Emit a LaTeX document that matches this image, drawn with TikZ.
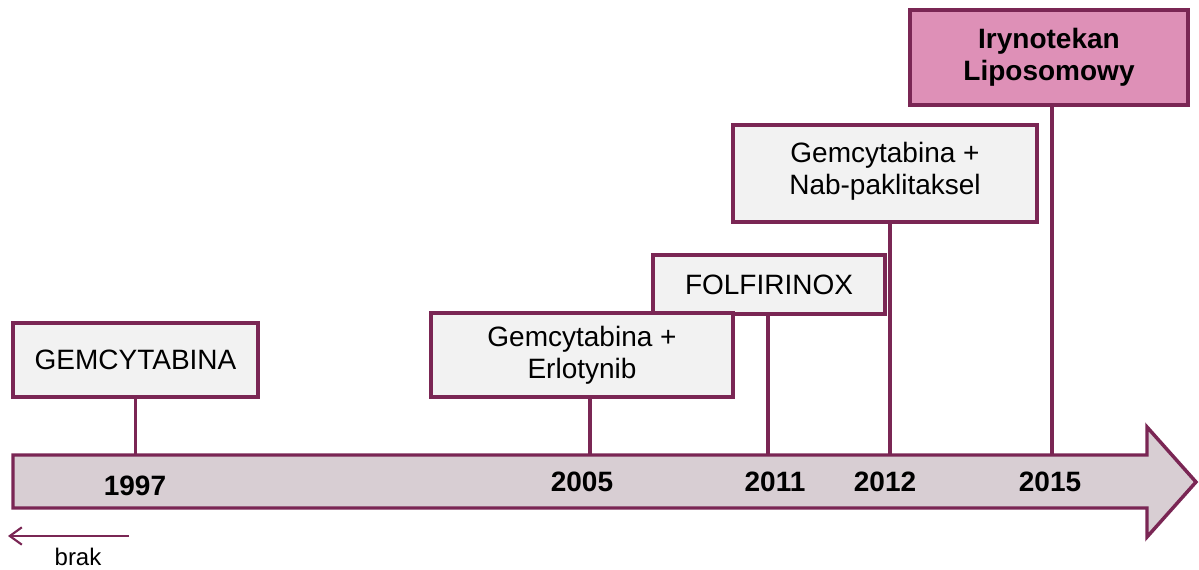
\documentclass[tikz,border=0pt]{standalone}
\usepackage{fontspec}
\setmainfont{Liberation Sans}
\usepackage{tikz,xcolor}
\usetikzlibrary{positioning, arrows.meta}

\definecolor{plum}{RGB}{122,38,84}
\definecolor{boxgray}{RGB}{242,242,242}
\definecolor{axisgray}{RGB}{216,206,211}
\definecolor{lipopink}{RGB}{222,144,183}

\begin{document}
\begin{tikzpicture}[x=0.75pt, y=-0.75pt, font=\fontsize{21}{24}\selectfont,
    drug/.style={draw=plum, line width=2.6pt, fill=boxgray, align=center, inner sep=0pt},
    riser/.style={draw=plum, line width=2.6pt},
    year/.style={font=\fontsize{21}{24}\selectfont\bfseries}]
    \useasboundingbox (0,0) rectangle (1199,570);

    % os czasu
    \draw[plum, line width=2.6pt, fill=axisgray, line join=miter]
        (13,455) -- (1147,455) -- (1147,427) -- (1196,482) -- (1147,537) -- (1147,508) -- (13,508) -- cycle;
    \coordinate (tltop) at (0,455);

    \node[drug, minimum width=183.75pt, minimum height=55.5pt]  (gem)  at (135.5,360)  {GEMCYTABINA};
    \node[drug, minimum width=174pt, minimum height=44.25pt]    (folf) at (769,284.5)  {FOLFIRINOX};
    \node[drug, minimum width=226.5pt, minimum height=63pt]     (erl)  at (582,355)    {Gemcytabina +\\Erlotynib};
    \node[drug, minimum width=228pt, minimum height=72.75pt]    (nab)  at (885,173.5)  {Gemcytabina +\\Nab-paklitaksel\rule[-8pt]{0pt}{8pt}};
    \node[drug, fill=lipopink, font=\fontsize{21}{24}\selectfont\bfseries,
          minimum width=208.5pt, minimum height=71.25pt]        (iry)  at (1049,57.5)  {Irynotekan\\Liposomowy};

    \draw[riser] (gem.south) -- (gem.south |- tltop);
    \draw[riser] ([xshift=6pt]erl.south) -- ([xshift=6pt]erl.south |- tltop);
    \draw[riser] ([xshift=-0.75pt]folf.south) -- ([xshift=-0.75pt]folf.south |- tltop);
    \draw[riser] ([xshift=3.75pt]nab.south) -- ([xshift=3.75pt]nab.south |- tltop);
    \draw[riser] ([xshift=2.25pt]iry.south) -- ([xshift=2.25pt]iry.south |- tltop);

    \node[year] (y1997) at (135,486)  {1997};
    \node[year] (y2005) at (582,482)  {2005};
    \node[year] (y2011) at (775,482)  {2011};
    \node[year] (y2012) at (885,482)  {2012};
    \node[year] (y2015) at (1050,482) {2015};

    % brak
    \coordinate (brak start) at (129,536);
    \coordinate (brak end)   at (8,536);
    \draw[plum, line width=1.6pt, -{Straight Barb[length=9pt,width=13pt]}] (brak start) -- (brak end);
    \node[font=\fontsize{18}{21}\selectfont] (brak) at (78,557) {brak};
\end{tikzpicture}
\end{document}
